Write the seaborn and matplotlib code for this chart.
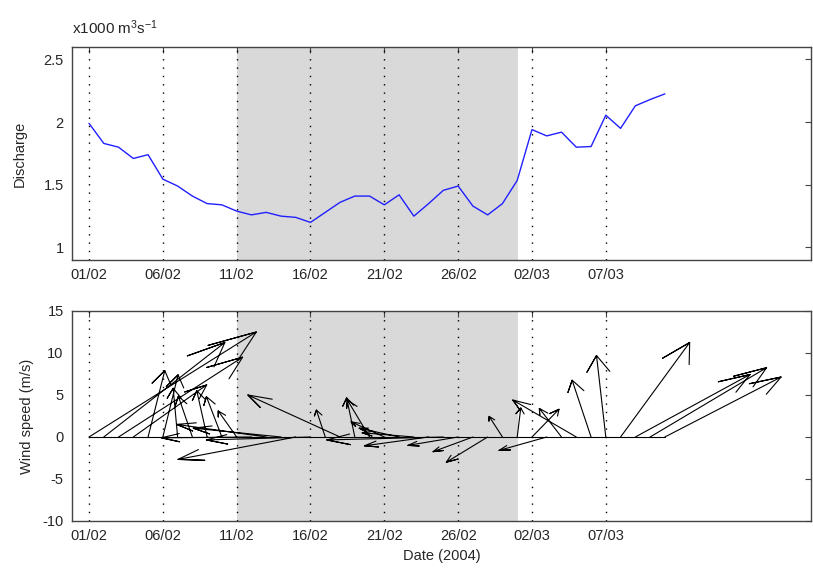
import numpy as np
import pandas as pd
import matplotlib
matplotlib.use("Agg")
import matplotlib.pyplot as plt
import matplotlib.dates as mdates
from matplotlib.ticker import FuncFormatter
import seaborn as sns

# daily values, 1 Feb - 11 Mar 2004
dates = pd.date_range("2004-02-01", periods=40, freq="D")

discharge = [1.99, 1.83, 1.80, 1.71, 1.74, 1.545, 1.49, 1.41, 1.35, 1.34,
             1.29, 1.26, 1.28, 1.25, 1.24, 1.20, 1.28, 1.36, 1.41, 1.41,
             1.34, 1.42, 1.25, 1.35, 1.456, 1.49, 1.33, 1.26, 1.35, 1.535,
             1.94, 1.89, 1.92, 1.80, 1.805, 2.055, 1.95, 2.13, 2.18, 2.225]

# wind components (m/s)
wind_u = [11.33, 8.2, 8.4, 4.97, 1.13, 1.03, -0.3, -0.95, -0.7, -1.05,
          -1.25, -6.1, -6.07, -5.94, -7.97, -7.05, -0.6, -6.24, -0.55, -1.5,
          -2.25, -2.7, -3.5, -4.35, -7.9, -3.4, -2.7, -2.8, -0.9, 0.24,
          1.83, -3.23, -1.5, -4.3, -1.28, -0.63, 4.68, 7.77, 7.89, 7.87]
wind_v = [12.5, 11.25, 9.5, 6.2, 7.9, 7.4, 5.8, 4.85, 5.5, 4.8,
          3.1, -0.1, 1.5, 1.05, -2.67, -0.35, 3.2, 5.0, 4.65, 4.4,
          1.8, 1.05, 0.5, -1.05, -0.35, -1.0, -1.75, -3.0, 2.45, 3.45,
          3.3, -1.6, 3.4, 4.4, 6.76, 9.7, 11.25, 7.44, 8.25, 7.14]

tick_dates = pd.date_range("2004-02-01", periods=8, freq="5D")
shade_start = pd.Timestamp("2004-02-11")
shade_end = pd.Timestamp("2004-03-01 02:00")

sns.set_style("white")
plt.rcParams["font.family"] = ["Liberation Sans", "DejaVu Sans"]
plt.rcParams["axes.unicode_minus"] = False
plt.rcParams["mathtext.default"] = "regular"
plt.rcParams["font.size"] = 10.5

x = mdates.date2num(dates)
x0 = x[0]
xticks = mdates.date2num(tick_dates)

fig = plt.figure(figsize=(8.13, 5.76), dpi=100)
ax1 = fig.add_axes([0.0886, 0.5486, 0.909, 0.370])
ax2 = fig.add_axes([0.0886, 0.0955, 0.909, 0.3646])

for ax in (ax1, ax2):
    ax.axvspan(mdates.date2num(shade_start), mdates.date2num(shade_end),
               color="#d9d9d9", lw=0, zorder=0)
    ax.set_xlim(x0 - 1.15, x0 + 48.9)
    ax.set_xticks(xticks)
    ax.set_xticklabels([d.strftime("%d/%m") for d in tick_dates])
    for xt in xticks:
        ax.axvline(xt, color="black", ls=(0, (1, 5)), lw=1.0, zorder=1)
    ax.tick_params(direction="in", top=True, right=True, length=4,
                   width=0.8, color="#444444", pad=6)
    for s in ax.spines.values():
        s.set_color("#444444")
        s.set_linewidth(1.0)

# discharge
sns.lineplot(x=x, y=discharge, ax=ax1, color="#2020ff", lw=1.0, zorder=3)
ax1.set_ylim(0.9, 2.6)
ax1.set_yticks([1, 1.5, 2, 2.5])
ax1.yaxis.set_major_formatter(FuncFormatter(lambda v, p: "%g" % v))
ax1.set_ylabel("Discharge", labelpad=12)
ax1.text(0.0, 1.045, "x1000 m$^{3}$s$^{-1}$", transform=ax1.transAxes,
         ha="left", va="bottom", fontsize=11)

# feather plot: arrows from each day along the zero line
z = np.array(wind_u) + 1j * np.array(wind_v)
shape = np.array([0, 1, 0.8 + 0.08j, 1, 0.8 - 0.08j])
xs, ys = [], []
for xi, zi in zip(x, z):
    pts = xi + shape * zi
    xs += list(pts.real) + [np.nan]
    ys += list(pts.imag) + [np.nan]
ax2.plot(xs, ys, color="black", lw=0.8, zorder=3)
ax2.plot([x[0], x[-1]], [0, 0], color="black", lw=0.8, zorder=3)
ax2.set_ylim(-10, 15)
ax2.set_yticks([-10, -5, 0, 5, 10, 15])
ax2.set_ylabel("Wind speed (m/s)", labelpad=6)
ax2.set_xlabel("Date (2004)", labelpad=4)

fig.savefig("out.png", dpi=100)
